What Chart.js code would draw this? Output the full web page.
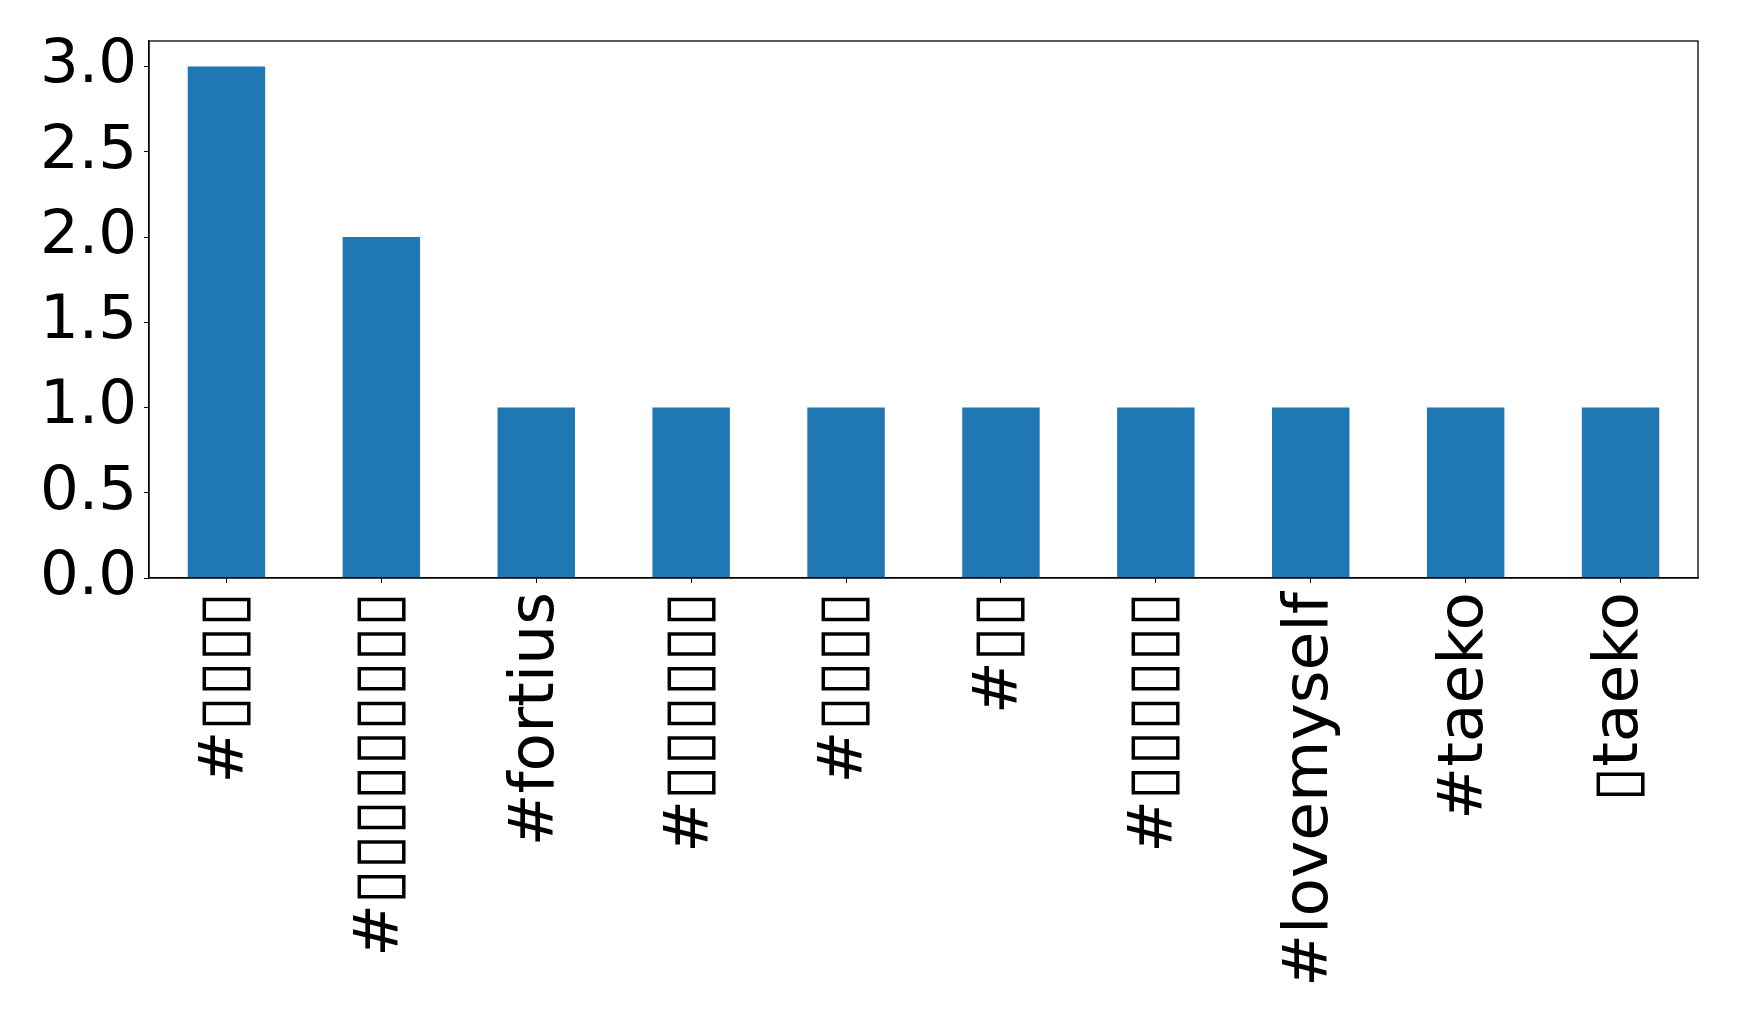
<!DOCTYPE html>
<html>
<head>
<meta charset="utf-8">
<script src="https://cdn.jsdelivr.net/npm/chart.js@4"></script>
<style>
    html, body { margin: 0; padding: 0; background: #fff; }
    #wrap { width: 1739px; height: 1020px; }
</style>
</head>
<body>
<div id="wrap"><canvas id="barChart"></canvas></div>
<script>
// Datos del gráfico
const categorias = ['#▯▯▯▯', '#▯▯▯▯▯▯▯▯▯', '#fortius', '#▯▯▯▯▯▯', '#▯▯▯▯', '#▯▯', '#▯▯▯▯▯▯', '#lovemyself', '#taeko', '▯taeko'];
const conteos = [3, 2, 1, 1, 1, 1, 1, 1, 1, 1];
const yMax = 3.15;
const yPaso = 0.5;

// Marco completo alrededor del área del gráfico
const marco = {
    id: 'marco',
    afterDraw(chart) {
        const a = chart.chartArea;
        const ctx = chart.ctx;
        ctx.save();
        ctx.strokeStyle = '#000';
        ctx.lineWidth = 1.3;
        ctx.strokeRect(a.left, a.top, a.right - a.left, a.bottom - a.top);
        ctx.restore();
    }
};

const ctx = document.getElementById('barChart').getContext('2d');
new Chart(ctx, {
    type: 'bar',
    data: {
        labels: categorias,
        datasets: [{
            data: conteos,
            backgroundColor: '#1f77b4',
            borderWidth: 0,
            categoryPercentage: 1.0,
            barPercentage: 0.5
        }]
    },
    options: {
        responsive: true,
        maintainAspectRatio: false,
        animation: false,
        layout: { padding: { top: 41, right: 41, left: 0, bottom: 0 } },
        plugins: {
            legend: { display: false },
            tooltip: { enabled: false }
        },
        scales: {
            x: {
                afterFit(scale) { scale.height = 442; },
                grid: { drawOnChartArea: false, drawTicks: true, tickLength: 5, color: '#000', offset: false },
                border: { display: true, color: '#000', width: 1.3 },
                ticks: {
                    color: '#000',
                    minRotation: 90,
                    maxRotation: 90,
                    autoSkip: false,
                    padding: 9,
                    font: { family: 'DejaVu Sans', size: 63 }
                }
            },
            y: {
                min: 0,
                max: yMax,
                afterFit(scale) {
                    scale.width = 149;
                    scale.paddingTop = 0;
                    scale.paddingBottom = 0;
                },
                grid: { drawOnChartArea: false, drawTicks: true, tickLength: 5, color: '#000' },
                border: { display: true, color: '#000', width: 1.3 },
                ticks: {
                    stepSize: yPaso,
                    includeBounds: false,
                    color: '#000',
                    padding: 7,
                    font: { family: 'DejaVu Sans', size: 61 },
                    callback: v => v.toFixed(1)
                }
            }
        }
    },
    plugins: [marco]
});
</script>
</body>
</html>
